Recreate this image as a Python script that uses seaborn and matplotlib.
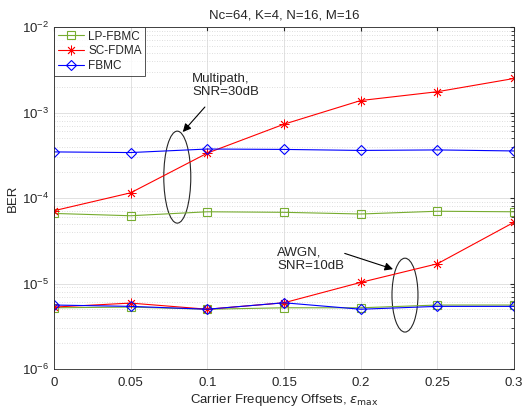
import numpy as np
import pandas as pd
import seaborn as sns
import matplotlib
matplotlib.use("Agg")
import matplotlib.pyplot as plt
from matplotlib.patches import Ellipse
from matplotlib.ticker import LogLocator, NullFormatter

# ---- data ----
eps = [0, 0.05, 0.1, 0.15, 0.2, 0.25, 0.3]
schemes = ["LP-FBMC", "SC-FDMA", "FBMC"]
lp_fbmc_multipath = [6.6e-5, 6.2e-5, 6.9e-5, 6.8e-5, 6.5e-5, 7.0e-5, 6.9e-5]
sc_fdma_multipath = [7.1e-5, 1.15e-4, 3.35e-4, 7.3e-4, 1.38e-3, 1.75e-3, 2.5e-3]
fbmc_multipath = [3.46e-4, 3.4e-4, 3.74e-4, 3.7e-4, 3.6e-4, 3.65e-4, 3.55e-4]
lp_fbmc_awgn = [5.2e-6, 5.3e-6, 5.0e-6, 5.2e-6, 5.2e-6, 5.6e-6, 5.6e-6]
sc_fdma_awgn = [5.3e-6, 5.9e-6, 5.0e-6, 5.95e-6, 1.03e-5, 1.7e-5, 5.2e-5]
fbmc_awgn = [5.6e-6, 5.4e-6, 5.0e-6, 5.95e-6, 5.0e-6, 5.4e-6, 5.4e-6]
title = "Nc=64, K=4, N=16, M=16"
xlabel = r"Carrier Frequency Offsets, $\epsilon_{\mathrm{max}}$"
ylabel = "BER"
xticklabels = ["0", "0.05", "0.1", "0.15", "0.2", "0.25", "0.3"]

sns.set_style("white")
plt.rcParams["font.family"] = ["Liberation Sans", "DejaVu Sans"]
plt.rcParams["mathtext.fontset"] = "dejavusans"

styles = {
    "LP-FBMC": dict(color="#77ac30", marker="s", ms=5.5, mew=0.8),
    "SC-FDMA": dict(color="#ff0000", marker=(8, 2, 0), ms=7, mew=0.6),
    "FBMC": dict(color="#0000ff", marker="D", ms=5.5, mew=0.8),
}
series = {
    "LP-FBMC": [lp_fbmc_multipath, lp_fbmc_awgn],
    "SC-FDMA": [sc_fdma_multipath, sc_fdma_awgn],
    "FBMC": [fbmc_multipath, fbmc_awgn],
}

fig = plt.figure(figsize=(5.29, 4.13), dpi=100)
ax = fig.add_axes([54 / 529, 1 - 369 / 413, 460 / 529, 342 / 413])

for name in schemes:
    st = styles[name]
    for i, vals in enumerate(series[name]):
        df = pd.DataFrame({"x": eps, "y": vals})
        sns.lineplot(data=df, x="x", y="y", ax=ax, color=st["color"],
                     marker=st["marker"], markersize=st["ms"],
                     markerfacecolor="none", markeredgecolor=st["color"],
                     markeredgewidth=st["mew"], linewidth=0.8,
                     label=name if i == 0 else None, legend=False)

ax.set_yscale("log")
ax.set_xlim(0, 0.3)
ax.set_ylim(1e-6, 1e-2)
ax.set_xticks(eps)
ax.set_xticklabels(xticklabels)
ax.yaxis.set_major_locator(LogLocator(base=10, numticks=10))
ax.yaxis.set_minor_locator(LogLocator(base=10, subs=np.arange(2, 10), numticks=100))
ax.yaxis.set_minor_formatter(NullFormatter())

ax.grid(True, which="major", color="#dcdcdc", linewidth=0.6, linestyle="-")
ax.grid(True, which="minor", axis="y", color="#d4d4d4", linewidth=0.6, linestyle=(0, (1, 2)))
ax.set_axisbelow(True)

ax.tick_params(which="both", direction="in", top=True, right=True,
               labelsize=9.5, colors="#262626", length=3)
ax.tick_params(which="minor", length=2)
ax.tick_params(axis="x", pad=6)
for sp in ax.spines.values():
    sp.set_color("#262626")
    sp.set_linewidth(0.6)

ax.set_title(title, fontsize=9.5, color="#262626", pad=6)
ax.set_xlabel(xlabel, fontsize=9.5, color="#262626", labelpad=2)
ax.set_ylabel(ylabel, fontsize=9.5, color="#262626", labelpad=2)

leg = ax.legend(loc="upper left", fontsize=8.5, frameon=True, fancybox=False,
                borderaxespad=0, handlelength=2.2, borderpad=0.3,
                labelspacing=0.25, handletextpad=0.4)
leg.get_frame().set_edgecolor("#262626")
leg.get_frame().set_linewidth(0.7)

# annotations (axes-fraction positions)
ax.add_patch(Ellipse((0.268, 0.561), 0.0587, 0.269, transform=ax.transAxes,
                     fill=False, edgecolor="#262626", linewidth=0.8))
ax.add_patch(Ellipse((0.763, 0.216), 0.0565, 0.216, transform=ax.transAxes,
                     fill=False, edgecolor="#262626", linewidth=0.8))
ax.text(0.300, 0.828, "Multipath,\nSNR=30dB", transform=ax.transAxes,
        fontsize=9.5, va="center", ha="left", color="#262626", linespacing=1.15)
ax.text(0.485, 0.322, "AWGN,\nSNR=10dB", transform=ax.transAxes,
        fontsize=9.5, va="center", ha="left", color="#262626", linespacing=1.15)
ax.annotate("", xy=(0.280, 0.693), xytext=(0.328, 0.766), xycoords="axes fraction",
            arrowprops=dict(arrowstyle="-|>", color="black", lw=0.8, mutation_scale=12,
                            shrinkA=0, shrinkB=0))
ax.annotate("", xy=(0.737, 0.292), xytext=(0.632, 0.338), xycoords="axes fraction",
            arrowprops=dict(arrowstyle="-|>", color="black", lw=0.8, mutation_scale=12,
                            shrinkA=0, shrinkB=0))

fig.savefig("out.png", dpi=100)
